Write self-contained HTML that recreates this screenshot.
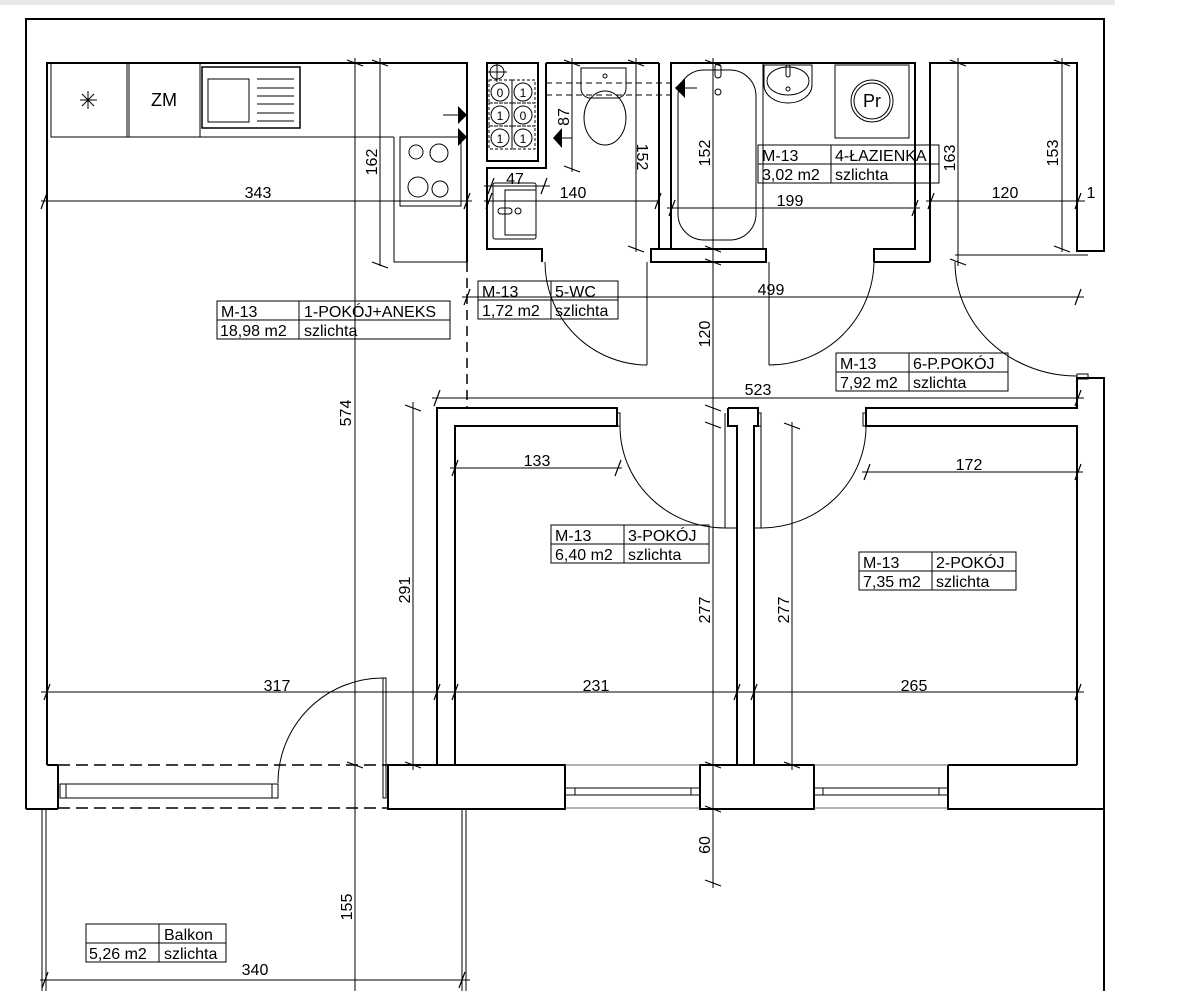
<!DOCTYPE html>
<html><head><meta charset="utf-8"><style>
html,body{margin:0;padding:0;background:#fff;}
svg{display:block;}
text{font-family:"Liberation Sans",sans-serif;fill:#000;}
</style></head><body>
<svg width="1199" height="991" viewBox="0 0 1199 991" xmlns="http://www.w3.org/2000/svg">
<rect x="0" y="0" width="1115" height="5" fill="#e8e8e8"/>
<g fill="none" stroke="#000" stroke-width="2">
<polyline points="26,809 26,19 1104,19 1104,251 1077,251 1077,63 930,63 930,262"/>
<polyline points="47,765 47,63 467,63 467,262"/>
<line x1="58" y1="765" x2="58" y2="809"/><line x1="47" y1="765" x2="58" y2="765"/><line x1="26" y1="809" x2="58" y2="809"/>
<rect x="487" y="63" width="51" height="98"/>
<polyline points="546,63 546,168 487,168 487,249 542,249 542,262"/>
<line x1="546" y1="63" x2="659" y2="63"/>
<polyline points="659,63 659,249 651,249 651,262"/>
<polyline points="671,249 671,63 915,63 915,249 874,249 874,262"/>
<rect x="651" y="249" width="115" height="13"/>
<line x1="874" y1="262" x2="930" y2="262"/>
<polyline points="437,765 437,408 617,408 617,426 455,426 455,765"/>
<polyline points="728,408 758,408 758,426 754,426 754,765"/>
<polyline points="728,408 728,426 737,426 737,765"/>
<polyline points="1077,765 1077,426 866,426 866,408 1077,408 1077,378 1104,378 1104,991"/>
<rect x="388" y="765" width="177" height="44"/>
<rect x="700" y="765" width="114" height="44"/>
<polyline points="948,765 1077,765"/>
<polyline points="948,765 948,809 1104,809"/>
<line x1="754" y1="765" x2="700" y2="765"/>
<line x1="455" y1="765" x2="565" y2="765"/>
</g>
<g fill="none" stroke="#000" stroke-width="1">
<rect x="60" y="784" width="218" height="14"/><line x1="66" y1="784" x2="66" y2="798"/><line x1="272" y1="784" x2="272" y2="798"/>
<line x1="565" y1="765" x2="700" y2="765" stroke="#666"/><line x1="565" y1="808" x2="700" y2="808" stroke="#666"/>
<rect x="565" y="788" width="135" height="7"/><line x1="575" y1="788" x2="575" y2="795"/><line x1="691" y1="788" x2="691" y2="795"/>
<line x1="814" y1="765" x2="948" y2="765" stroke="#666"/><line x1="814" y1="808" x2="948" y2="808" stroke="#666"/>
<rect x="814" y="788" width="134" height="7"/><line x1="823" y1="788" x2="823" y2="795"/><line x1="939" y1="788" x2="939" y2="795"/>
<line x1="58" y1="765" x2="388" y2="765" stroke-dasharray="12,6" stroke-width="1.5"/>
<line x1="58" y1="808" x2="388" y2="808" stroke-dasharray="12,6" stroke-width="1.5"/>
<line x1="42" y1="809" x2="42" y2="991"/><line x1="46" y1="809" x2="46" y2="991"/>
<line x1="462" y1="809" x2="462" y2="991"/><line x1="466" y1="809" x2="466" y2="991"/>
<rect x="383" y="678" width="3" height="120"/>
<path d="M383,678 A105,105 0 0 0 278,783"/>
<path d="M545,262 A103,103 0 0 0 647,365"/><line x1="647" y1="262" x2="647" y2="365"/>
<path d="M769,365 A105,105 0 0 0 874,262"/><line x1="769" y1="262" x2="769" y2="365"/>
<path d="M955,262 A122,114 0 0 0 1077,376"/><line x1="955" y1="255" x2="1088" y2="255"/>
<rect x="1077" y="374" width="11" height="5"/>
<rect x="617" y="413" width="3" height="13"/>
<path d="M620,426 A105,102 0 0 0 725,528"/><line x1="725" y1="413" x2="725" y2="528"/><line x1="725" y1="528" x2="737" y2="528"/>
<rect x="758" y="413" width="3" height="13"/>
<path d="M761,528 A105,102 0 0 0 866,426"/><line x1="761" y1="413" x2="761" y2="528"/><line x1="754" y1="528" x2="761" y2="528"/>
<rect x="863" y="413" width="3" height="13"/>
<line x1="467" y1="262" x2="467" y2="408" stroke-dasharray="10,6" stroke-width="1.5"/>
<rect x="51" y="63" width="76" height="74"/><rect x="129" y="63" width="71" height="74"/>
<line x1="51" y1="137" x2="394" y2="137"/><polyline points="394,137 394,262 467,262"/>
<rect x="202" y="67" width="98" height="61" stroke-width="1.5"/><rect x="208" y="79" width="41" height="43"/>
<line x1="257" y1="79" x2="294" y2="79"/><line x1="257" y1="88" x2="294" y2="88"/><line x1="257" y1="96" x2="294" y2="96"/><line x1="257" y1="104" x2="294" y2="104"/><line x1="257" y1="113" x2="294" y2="113"/><line x1="257" y1="121" x2="294" y2="121"/>
<line x1="80" y1="100" x2="97" y2="100"/><line x1="88" y1="91" x2="88" y2="109"/><line x1="82" y1="94" x2="94" y2="106"/><line x1="82" y1="106" x2="94" y2="94"/>
<rect x="400" y="137" width="61" height="69"/>
<circle cx="416" cy="152" r="7"/><circle cx="439" cy="153" r="9"/><circle cx="418" cy="187" r="10"/><circle cx="440" cy="189" r="8"/>
<line x1="443" y1="115" x2="458" y2="115"/><line x1="443" y1="137" x2="458" y2="137"/>
<circle cx="497" cy="72" r="7"/><line x1="487" y1="72" x2="507" y2="72"/><line x1="497" y1="62" x2="497" y2="82"/>
<g stroke-dasharray="3,2"><rect x="489" y="80" width="23" height="23"/><rect x="512" y="80" width="23" height="23"/><rect x="489" y="103" width="23" height="23"/><rect x="512" y="103" width="23" height="23"/><rect x="489" y="126" width="23" height="23"/><rect x="512" y="126" width="23" height="23"/></g>
<circle cx="500" cy="92" r="9"/><circle cx="523" cy="92" r="9"/><circle cx="500" cy="115" r="9"/><circle cx="523" cy="115" r="9"/><circle cx="500" cy="138" r="9"/><circle cx="523" cy="138" r="9"/>
<line x1="562" y1="138" x2="572" y2="138"/>
<rect x="493" y="183" width="43" height="56" rx="2"/><rect x="505" y="190" width="31" height="45"/>
<rect x="498" y="208" width="14" height="6" rx="3"/><circle cx="518" cy="211" r="3"/>
<path d="M581,68 h45 v20 q0,8 -8,10 h-29 q-8,-2 -8,-10 z"/>
<ellipse cx="605" cy="118" rx="21" ry="27"/><circle cx="605" cy="76" r="2"/>
<line x1="546" y1="83" x2="671" y2="83" stroke-dasharray="6,4"/><line x1="546" y1="95" x2="671" y2="95" stroke-dasharray="6,4"/>
<line x1="685" y1="88" x2="697" y2="88"/>
<rect x="671" y="63" width="92" height="186"/>
<rect x="678" y="70" width="78" height="170" rx="26"/>
<circle cx="718" cy="92" r="3"/><rect x="715" y="64" width="6" height="14" rx="3"/>
<path d="M764,65 h48 v20 a24,18 0 0 1 -48,0 z"/><ellipse cx="788" cy="81" rx="21" ry="14"/><circle cx="788" cy="89" r="2"/><rect x="786" y="65" width="4" height="12" rx="2"/>
<rect x="835" y="65" width="74" height="73"/>
<circle cx="872" cy="101" r="18"/><circle cx="872" cy="101" r="21"/>
</g>
<g fill="#000">
<polygon points="458,106 467,115 458,124"/><polygon points="458,128 467,137 458,146"/>
<polygon points="562,128 553,138 562,148"/><polygon points="685,78 675,88 685,98"/>
</g>
<g fill="none" stroke="#000" stroke-width="1">
<line x1="41" y1="201" x2="472" y2="201"/><line x1="484" y1="201" x2="660" y2="201"/><line x1="926" y1="201" x2="1085" y2="201"/>
<line x1="667" y1="208" x2="920" y2="208"/>
<line x1="484" y1="186" x2="550" y2="186"/>
<line x1="380" y1="58" x2="380" y2="266"/>
<line x1="355" y1="58" x2="355" y2="991"/>
<line x1="572" y1="58" x2="572" y2="172"/>
<line x1="636" y1="58" x2="636" y2="252"/>
<line x1="713" y1="58" x2="713" y2="888"/>
<line x1="958" y1="58" x2="958" y2="266"/>
<line x1="1062" y1="58" x2="1062" y2="252"/>
<line x1="462" y1="297" x2="1084" y2="297"/>
<line x1="432" y1="398" x2="1084" y2="398"/>
<line x1="413" y1="402" x2="413" y2="770"/>
<line x1="450" y1="468" x2="622" y2="468"/>
<line x1="862" y1="472" x2="1083" y2="472"/>
<line x1="792" y1="422" x2="792" y2="770"/>
<line x1="41" y1="692" x2="1084" y2="692"/>
<line x1="40" y1="980" x2="470" y2="980"/>
<g stroke-width="1.2">
<path d="M41,209 l6,-16 M464,209 l6,-16 M486,209 l6,-16 M655,209 l6,-16 M928,209 l6,-16 M1075,209 l6,-16 M669,216 l6,-16 M912,216 l6,-16 M488,194 l6,-16 M541,194 l6,-16"/>
<path d="M372,60 l16,6 M372,262 l16,6 M347,60 l16,6 M347,762 l16,6 M564,60 l16,6 M564,166 l16,6 M628,60 l16,6 M628,246 l16,6 M705,60 l16,6 M705,246 l16,6 M705,259 l16,6 M705,405 l16,6 M705,422 l16,6 M705,762 l16,6 M705,806 l16,6 M705,880 l16,6 M950,60 l16,6 M950,259 l16,6 M1054,60 l16,6 M1054,246 l16,6"/>
<path d="M464,305 l6,-16 M1075,305 l6,-16 M434,406 l6,-16 M1075,406 l6,-16 M405,405 l16,6 M405,762 l16,6 M452,476 l6,-16 M615,476 l6,-16 M864,480 l6,-16 M1075,480 l6,-16 M784,423 l16,6 M784,762 l16,6 M44,700 l6,-16 M434,700 l6,-16 M452,700 l6,-16 M734,700 l6,-16 M751,700 l6,-16 M1075,700 l6,-16 M42,988 l6,-16 M459,988 l6,-16"/>
</g>
</g>
<g font-size="16">
<text x="258" y="198" text-anchor="middle">343</text>
<text x="515" y="184" text-anchor="middle">47</text>
<text x="573" y="198" text-anchor="middle">140</text>
<text x="790" y="206" text-anchor="middle">199</text>
<text x="1005" y="198" text-anchor="middle">120</text>
<text x="1091" y="198" text-anchor="middle">1</text>
<text x="771" y="295" text-anchor="middle">499</text>
<text x="758" y="395" text-anchor="middle">523</text>
<text x="537" y="466" text-anchor="middle">133</text>
<text x="969" y="470" text-anchor="middle">172</text>
<text x="277" y="691" text-anchor="middle">317</text>
<text x="596" y="691" text-anchor="middle">231</text>
<text x="914" y="691" text-anchor="middle">265</text>
<text x="255" y="975" text-anchor="middle">340</text>
<text transform="translate(377,162) rotate(-90)" text-anchor="middle">162</text>
<text transform="translate(351,413) rotate(-90)" text-anchor="middle">574</text>
<text transform="translate(569,117) rotate(-90)" text-anchor="middle">87</text>
<text transform="translate(637,157) rotate(90)" text-anchor="middle">152</text>
<text transform="translate(710,153) rotate(-90)" text-anchor="middle">152</text>
<text transform="translate(710,334) rotate(-90)" text-anchor="middle">120</text>
<text transform="translate(710,610) rotate(-90)" text-anchor="middle">277</text>
<text transform="translate(710,845) rotate(-90)" text-anchor="middle">60</text>
<text transform="translate(789,610) rotate(-90)" text-anchor="middle">277</text>
<text transform="translate(955,158) rotate(-90)" text-anchor="middle">163</text>
<text transform="translate(1058,153) rotate(-90)" text-anchor="middle">153</text>
<text transform="translate(410,590) rotate(-90)" text-anchor="middle">291</text>
<text transform="translate(352,907) rotate(-90)" text-anchor="middle">155</text>
</g>
<g font-size="18"><text x="164" y="106" text-anchor="middle">ZM</text><text x="872" y="107" text-anchor="middle">Pr</text></g>
<g font-size="12"><text x="500" y="97" text-anchor="middle">0</text><text x="523" y="97" text-anchor="middle">1</text><text x="500" y="120" text-anchor="middle">1</text><text x="523" y="120" text-anchor="middle">0</text><text x="500" y="143" text-anchor="middle">1</text><text x="523" y="143" text-anchor="middle">1</text></g>
<g fill="none" stroke="#000" stroke-width="1">
<rect x="217" y="301" width="233" height="38"/><line x1="217" y1="320" x2="450" y2="320"/><line x1="299" y1="301" x2="299" y2="339"/>
<rect x="478" y="281" width="140" height="38"/><line x1="478" y1="300" x2="618" y2="300"/><line x1="551" y1="281" x2="551" y2="319"/>
<rect x="758" y="145" width="181" height="38"/><line x1="758" y1="164" x2="939" y2="164"/><line x1="831" y1="145" x2="831" y2="183"/>
<rect x="836" y="353" width="172" height="38"/><line x1="836" y1="372" x2="1008" y2="372"/><line x1="909" y1="353" x2="909" y2="391"/>
<rect x="551" y="525" width="158" height="38"/><line x1="551" y1="544" x2="709" y2="544"/><line x1="624" y1="525" x2="624" y2="563"/>
<rect x="859" y="552" width="157" height="38"/><line x1="859" y1="571" x2="1016" y2="571"/><line x1="932" y1="552" x2="932" y2="590"/>
<rect x="86" y="924" width="140" height="38"/><line x1="86" y1="943" x2="226" y2="943"/><line x1="159" y1="924" x2="159" y2="962"/>
</g>
<g font-size="16">
<text x="221" y="317">M-13</text><text x="304" y="317">1-POKÓJ+ANEKS</text><text x="220" y="336">18,98 m2</text><text x="304" y="336">szlichta</text>
<text x="482" y="297">M-13</text><text x="555" y="297">5-WC</text><text x="482" y="316">1,72 m2</text><text x="555" y="316">szlichta</text>
<text x="762" y="161">M-13</text><text x="835" y="161">4-ŁAZIENKA</text><text x="762" y="180">3,02 m2</text><text x="835" y="180">szlichta</text>
<text x="840" y="369">M-13</text><text x="913" y="369">6-P.POKÓJ</text><text x="840" y="388">7,92 m2</text><text x="913" y="388">szlichta</text>
<text x="555" y="541">M-13</text><text x="628" y="541">3-POKÓJ</text><text x="555" y="560">6,40 m2</text><text x="628" y="560">szlichta</text>
<text x="863" y="568">M-13</text><text x="936" y="568">2-POKÓJ</text><text x="863" y="587">7,35 m2</text><text x="936" y="587">szlichta</text>
<text x="164" y="940">Balkon</text><text x="89" y="959">5,26 m2</text><text x="164" y="959">szlichta</text>
</g>
</svg>
</body></html>
